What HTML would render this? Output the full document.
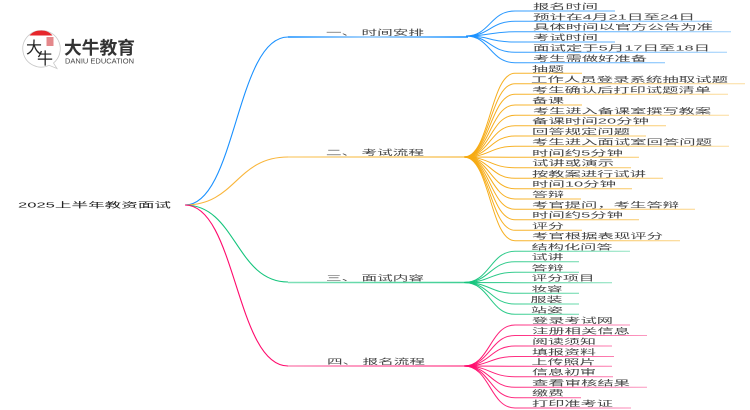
<!DOCTYPE html>
<html><head><meta charset="utf-8">
<style>
html,body{margin:0;padding:0;background:#fff;width:750px;height:410px;overflow:hidden}
svg{display:block}
text{font-family:"Liberation Sans","Noto Sans CJK SC",sans-serif}
.c text{font-size:7.5px;fill:#444;filter:url(#b);transform:translateY(-.7px)}
.c path{fill:none;stroke-width:1}
.m{fill:none;stroke-width:1.5}
</style></head><body>
<svg width="750" height="410" viewBox="0 0 750 410" xmlns="http://www.w3.org/2000/svg">
<defs>
<filter id="b" x="-5%" y="-30%" width="110%" height="160%"><feGaussianBlur stdDeviation="0.3"/></filter>
<linearGradient id="gb" gradientUnits="userSpaceOnUse" x1="468" y1="0" x2="730" y2="0"><stop offset="0" stop-color="#1890ff"/><stop offset="1" stop-color="#9fd0fb"/></linearGradient>
<linearGradient id="go" gradientUnits="userSpaceOnUse" x1="468" y1="0" x2="730" y2="0"><stop offset="0" stop-color="#f6a90f"/><stop offset="1" stop-color="#fbdc9e"/></linearGradient>
<linearGradient id="gg" gradientUnits="userSpaceOnUse" x1="468" y1="0" x2="630" y2="0"><stop offset="0" stop-color="#14c47c"/><stop offset="1" stop-color="#92e3c2"/></linearGradient>
<linearGradient id="gp" gradientUnits="userSpaceOnUse" x1="468" y1="0" x2="650" y2="0"><stop offset="0" stop-color="#ff0a6c"/><stop offset="1" stop-color="#fb9cc2"/></linearGradient>
<linearGradient id="mb" gradientUnits="userSpaceOnUse" x1="288" y1="0" x2="460" y2="0"><stop offset="0" stop-color="#1890ff"/><stop offset=".5" stop-color="#8cc6fb"/><stop offset="1" stop-color="#1890ff"/></linearGradient>
<linearGradient id="mo" gradientUnits="userSpaceOnUse" x1="288" y1="0" x2="460" y2="0"><stop offset="0" stop-color="#fbd58a"/><stop offset="1" stop-color="#f8c764"/></linearGradient>
<linearGradient id="mg" gradientUnits="userSpaceOnUse" x1="288" y1="0" x2="460" y2="0"><stop offset="0" stop-color="#7fe0b8"/><stop offset="1" stop-color="#40cf95"/></linearGradient>
<linearGradient id="mp" gradientUnits="userSpaceOnUse" x1="288" y1="0" x2="460" y2="0"><stop offset="0" stop-color="#fb8fb9"/><stop offset="1" stop-color="#ff5c9c"/></linearGradient>
</defs>

<!-- logo -->
<path d="M41 30.500a18.300 18.300 0 1 0 8 34.800l8 3.200-3.500-5.500A18.300 18.300 0 0 0 41 30.500z" fill="#fff" stroke="#c8c8c8" stroke-width=".8"/>
<path d="M29.500 35.500C32.500 32 36 30.500 41 30.500s8.500 1.500 11.500 5z" fill="#e6262b"/>
<rect x="46.500" y="37" width="7" height="9" fill="#d9565a" opacity=".7"/>
<text x="26" y="53" font-size="16" fill="#222">大</text>
<text x="37" y="64" font-size="16" fill="#222">牛</text>
<text x="64" y="54" font-size="17.800" font-weight="700" fill="#333" textLength="71" lengthAdjust="spacingAndGlyphs">大牛教育</text>
<text x="65" y="63.500" font-size="7" fill="#444" textLength="69" lengthAdjust="spacingAndGlyphs">DANIU EDUCATION</text>

<!-- root -->
<text x="18" y="207.500" font-size="7.500" fill="#222" textLength="153" lengthAdjust="spacingAndGlyphs" filter="url(#b)">2025上半年教资面试</text>

<!-- main branches -->
<path d="M185 205C236 205 236 37 288 37" fill="none" stroke="#1890ff" stroke-width="1.100"/>
<path d="M185 205C236 205 236 157 288 157" fill="none" stroke="#f9b53a" stroke-width="1.100"/>
<path d="M185 205C236 205 236 282 288 282" fill="none" stroke="#14c47c" stroke-width="1.100"/>
<path d="M185 205C236 205 236 366 288 366" fill="none" stroke="#ff0a6c" stroke-width="1.100"/>
<path d="M288 37H468" class="m" stroke="url(#mb)"/>
<path d="M288 157H466" class="m" stroke="url(#mo)"/>
<path d="M288 282.500H468" class="m" stroke="url(#mg)"/>
<path d="M288 366H468" class="m" stroke="url(#mp)"/>

<g filter="url(#b)" font-size="7.500" fill="#444">
<text x="326" y="35" textLength="98" lengthAdjust="spacingAndGlyphs">一、 时间安排</text>
<text x="326" y="155" textLength="98" lengthAdjust="spacingAndGlyphs">二、 考试流程</text>
<text x="326" y="280.500" textLength="98" lengthAdjust="spacingAndGlyphs">三、 面试内容</text>
<text x="327" y="364" textLength="98" lengthAdjust="spacingAndGlyphs">四、 报名流程</text>
</g>

<!-- blue -->
<g class="c" stroke="url(#gb)">
<path d="M466 36C490 36 490 11 515 11H615"/>
<path d="M466 36C490 36 490 21.300 515 21.300H712"/>
<path d="M466 36C490 36 490 31.700 515 31.700H731"/>
<path d="M466 36C490 36 490 42 515 42H615"/>
<path d="M466 36C490 36 490 52.300 515 52.300H727"/>
<path d="M466 36C490 36 490 62.700 515 62.700H665"/>
</g>
<g class="c">
<text x="533" y="9.500" textLength="65" lengthAdjust="spacingAndGlyphs">报名时间</text>
<text x="533" y="20" textLength="162" lengthAdjust="spacingAndGlyphs">预计在4月21日至24日</text>
<text x="533" y="30.300" textLength="180" lengthAdjust="spacingAndGlyphs">具体时间以官方公告为准</text>
<text x="533" y="40.700" textLength="65" lengthAdjust="spacingAndGlyphs">考试时间</text>
<text x="533" y="51" textLength="177" lengthAdjust="spacingAndGlyphs">面试定于5月17日至18日</text>
<text x="533" y="61.500" textLength="114" lengthAdjust="spacingAndGlyphs">考生需做好准备</text>
</g>

<!-- orange -->
<g class="c" stroke="url(#go)">
<path d="M464 157C490 157 490 73.300 515 73.300H582"/>
<path d="M464 157C490 157 490 83.700 515 83.700H745"/>
<path d="M464 157C490 157 490 94.300 515 94.300H728"/>
<path d="M464 157C490 157 490 105 515 105H582"/>
<path d="M464 157C490 157 490 115.300 515 115.300H729"/>
<path d="M464 157C490 157 490 125.700 515 125.700H666"/>
<path d="M464 157C490 157 490 136 515 136H646"/>
<path d="M464 157C490 157 490 146.300 515 146.300H729"/>
<path d="M464 157C490 157 490 157.300 515 157.300H639"/>
<path d="M464 157C490 157 490 167.700 515 167.700H631"/>
<path d="M464 157C490 157 490 178.300 515 178.300H663"/>
<path d="M464 157C490 157 490 188.700 515 188.700H632"/>
<path d="M464 157C490 157 490 199 515 199H581"/>
<path d="M464 157C490 157 490 209.300 515 209.300H695"/>
<path d="M464 157C490 157 490 219.700 515 219.700H639"/>
<path d="M464 157C490 157 490 230.300 515 230.300H582"/>
<path d="M464 157C490 157 490 240.700 515 240.700H680"/>
</g>
<g class="c">
<text x="532" y="72" textLength="32" lengthAdjust="spacingAndGlyphs">抽题</text>
<text x="531" y="82.500" textLength="197" lengthAdjust="spacingAndGlyphs">工作人员登录系统抽取试题</text>
<text x="532" y="93" textLength="179" lengthAdjust="spacingAndGlyphs">考生确认后打印试题清单</text>
<text x="532" y="103.500" textLength="32" lengthAdjust="spacingAndGlyphs">备课</text>
<text x="533" y="114" textLength="178" lengthAdjust="spacingAndGlyphs">考生进入备课室撰写教案</text>
<text x="532" y="124.300" textLength="117" lengthAdjust="spacingAndGlyphs">备课时间20分钟</text>
<text x="532" y="134.700" textLength="98" lengthAdjust="spacingAndGlyphs">回答规定问题</text>
<text x="532" y="145" textLength="180" lengthAdjust="spacingAndGlyphs">考生进入面试室回答问题</text>
<text x="532" y="156" textLength="91" lengthAdjust="spacingAndGlyphs">时间约5分钟</text>
<text x="532" y="166.300" textLength="82" lengthAdjust="spacingAndGlyphs">试讲或演示</text>
<text x="532" y="177" textLength="114" lengthAdjust="spacingAndGlyphs">按教案进行试讲</text>
<text x="532" y="187.300" textLength="84" lengthAdjust="spacingAndGlyphs">时间10分钟</text>
<text x="532" y="197.700" textLength="32" lengthAdjust="spacingAndGlyphs">答辩</text>
<text x="532" y="208" textLength="147" lengthAdjust="spacingAndGlyphs">考官提问，考生答辩</text>
<text x="532" y="218.300" textLength="91" lengthAdjust="spacingAndGlyphs">时间约5分钟</text>
<text x="532" y="229" textLength="32" lengthAdjust="spacingAndGlyphs">评分</text>
<text x="532" y="239.300" textLength="131" lengthAdjust="spacingAndGlyphs">考官根据表现评分</text>
</g>

<!-- green -->
<g class="c" stroke="url(#gg)">
<path d="M464 282.500C490 282.500 490 251.300 515 251.300H630"/>
<path d="M464 282.500C490 282.500 490 261.700 515 261.700H579"/>
<path d="M464 282.500C490 282.500 490 272.300 515 272.300H579"/>
<path d="M464 282.500C490 282.500 490 282.700 515 282.700H612"/>
<path d="M464 282.500C490 282.500 490 293.300 515 293.300H579"/>
<path d="M464 282.500C490 282.500 490 304 515 304H579"/>
<path d="M464 282.500C490 282.500 490 314.300 515 314.300H579"/>
</g>
<g class="c">
<text x="531.500" y="250" textLength="81" lengthAdjust="spacingAndGlyphs">结构化问答</text>
<text x="531.500" y="260.300" textLength="32" lengthAdjust="spacingAndGlyphs">试讲</text>
<text x="531.500" y="271" textLength="32" lengthAdjust="spacingAndGlyphs">答辩</text>
<text x="531.500" y="281.300" textLength="63" lengthAdjust="spacingAndGlyphs">评分项目</text>
<text x="531.500" y="292" textLength="31" lengthAdjust="spacingAndGlyphs">妆容</text>
<text x="530.500" y="302.700" textLength="32" lengthAdjust="spacingAndGlyphs">服装</text>
<text x="531" y="313" textLength="32" lengthAdjust="spacingAndGlyphs">站姿</text>
</g>

<!-- pink -->
<g class="c" stroke="url(#gp)">
<path d="M464 366C490 366 490 325 515 325H630"/>
<path d="M464 366C490 366 490 335.500 515 335.500H647"/>
<path d="M464 366C490 366 490 346 515 346H612"/>
<path d="M464 366C490 366 490 356.500 515 356.500H614"/>
<path d="M464 366C490 366 490 366.300 515 366.300H612"/>
<path d="M464 366C490 366 490 376.700 515 376.700H613"/>
<path d="M464 366C490 366 490 387.300 515 387.300H647"/>
<path d="M464 366C490 366 490 397.700 515 397.700H581"/>
<path d="M464 366C490 366 490 408 515 408H631"/>
</g>
<g class="c">
<text x="532" y="323.700" textLength="81" lengthAdjust="spacingAndGlyphs">登录考试网</text>
<text x="532" y="334" textLength="98" lengthAdjust="spacingAndGlyphs">注册相关信息</text>
<text x="532" y="344.500" textLength="64" lengthAdjust="spacingAndGlyphs">阅读须知</text>
<text x="532" y="355" textLength="64" lengthAdjust="spacingAndGlyphs">填报资料</text>
<text x="531.500" y="365" textLength="64" lengthAdjust="spacingAndGlyphs">上传照片</text>
<text x="532" y="375.300" textLength="64" lengthAdjust="spacingAndGlyphs">信息初审</text>
<text x="532" y="386" textLength="98" lengthAdjust="spacingAndGlyphs">查看审核结果</text>
<text x="532" y="396.300" textLength="32" lengthAdjust="spacingAndGlyphs">缴费</text>
<text x="532" y="406.700" textLength="81" lengthAdjust="spacingAndGlyphs">打印准考证</text>
</g>
</svg>
</body></html>
